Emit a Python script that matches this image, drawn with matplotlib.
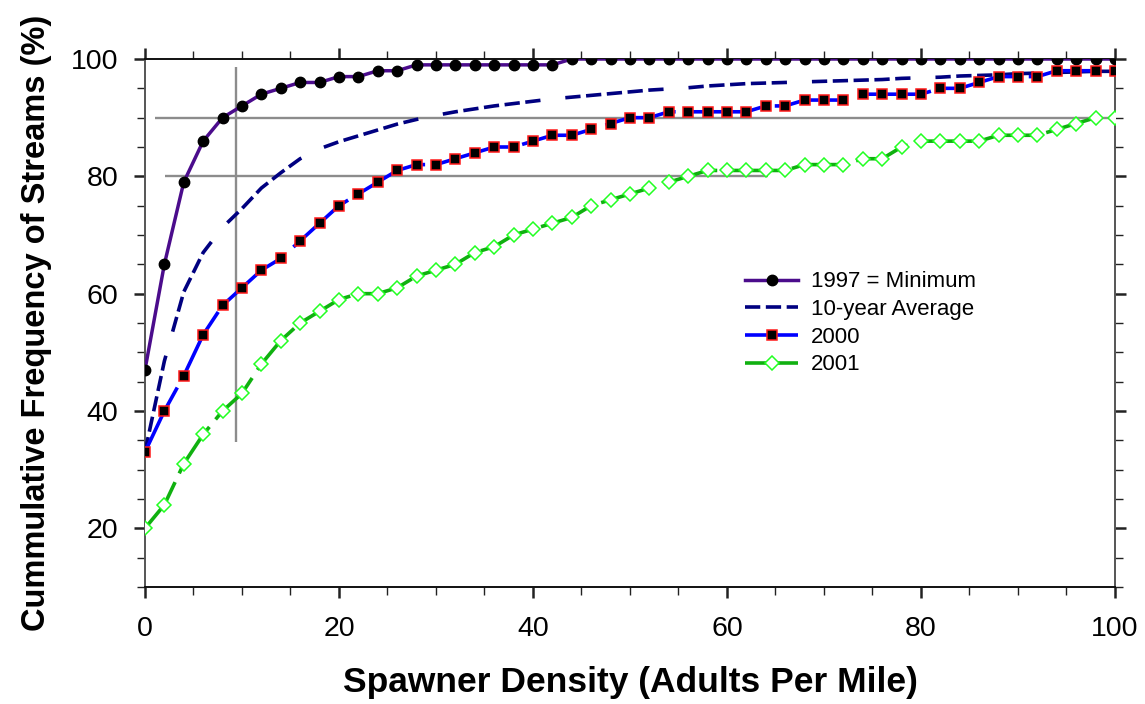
import numpy as np
import matplotlib
matplotlib.use("Agg")
import matplotlib.pyplot as plt
from matplotlib.ticker import MultipleLocator

plt.rcParams['font.family'] = ['Liberation Sans', 'DejaVu Sans']
plt.rcParams['lines.scale_dashes'] = False

# spawner density (adults per mile), one point every 2
density = np.arange(0, 101, 2)

min_1997 = [47, 65, 79, 86, 90, 92, 94, 95, 96, 96,
            97, 97, 98, 98, 99, 99, 99, 99, 99, 99,
            99, 99, 100, 100, 100, 100, 100, 100, 100, 100,
            100, 100, 100, 100, 100, 100, 100, 100, 100, 100,
            100, 100, 100, 100, 100, 100, 100, 100, 100, 100, 100]

avg_10yr = [33, 48.5, 60.3, 67, 71.3, 74.5, 78, 80.6, 83, 84.7,
            85.9, 86.9, 87.9, 88.9, 89.7, 90.4, 91, 91.5, 92, 92.4,
            92.8, 93.2, 93.5, 93.8, 94.1, 94.4, 94.7, 94.9, 95.1, 95.4,
            95.6, 95.8, 95.9, 96, 96.1, 96.2, 96.3, 96.4, 96.5, 96.7,
            96.8, 96.9, 97.1, 97.2, 97.3, 97.5, 97.6, 97.7, 97.8, 97.9, 97.9]

yr_2000 = [33, 40, 46, 53, 58, 61, 64, 66, 69, 72,
           75, 77, 79, 81, 82, 82, 83, 84, 85, 85,
           86, 87, 87, 88, 89, 90, 90, 91, 91, 91,
           91, 91, 92, 92, 93, 93, 93, 94, 94, 94,
           94, 95, 95, 96, 97, 97, 97, 98, 98, 98, 98]

yr_2001 = [20, 24, 31, 36, 40, 43, 48, 52, 55, 57,
           59, 60, 60, 61, 63, 64, 65, 67, 68, 70,
           71, 72, 73, 75, 76, 77, 78, 79, 80, 81,
           81, 81, 81, 81, 82, 82, 82, 83, 83, 85,
           86, 86, 86, 86, 87, 87, 87, 88, 89, 90, 90]

# gray guide lines
vline_x = [9.4, 9.4]
vline_y = [34.8, 98.6]
hline90_x = [1.0, 100]
hline90_y = [90, 90]
hline80_x = [2.1, 64.2]
hline80_y = [80, 80]

fig = plt.figure(figsize=(11.45, 7.04), dpi=100)
ax = fig.add_axes([0.1266, 0.1662, 0.8472, 0.75])

guide = dict(color='#8c8c8c', lw=1.7, zorder=1, solid_capstyle='butt')
ax.plot(vline_x, vline_y, **guide)
ax.plot(hline90_x, hline90_y, **guide)
ax.plot(hline80_x, hline80_y, **guide)

ax.plot(density, min_1997, color='#4B0C8C', lw=2.5, marker='o', ms=7.5,
        mfc='black', mec='black', label='1997 = Minimum', zorder=3)
ax.plot(density, avg_10yr, color='#000080', lw=2.6,
        linestyle=(0, (11, 4, 11, 4, 11, 4, 11, 4, 11, 18)),
        label='10-year Average', zorder=3)
ax.plot(density, yr_2000, color='#0000FF', lw=2.6, linestyle=(0, (52, 10)),
        marker='s', ms=6.8, mfc='black', mec='#FF1A1A', mew=1.1,
        label='2000', zorder=4)
ax.plot(density, yr_2001, color='#10B010', lw=2.6, linestyle=(0, (40, 7)),
        marker='D', ms=6.8, mfc='white', mec='#22FF22', mew=1.1,
        label='2001', zorder=4)

ax.set_xlim(0, 100)
ax.set_ylim(10, 100)
ax.xaxis.set_major_locator(MultipleLocator(20))
ax.xaxis.set_minor_locator(MultipleLocator(5))
ax.yaxis.set_major_locator(MultipleLocator(20))
ax.yaxis.set_minor_locator(MultipleLocator(5))

ax.tick_params(which='both', direction='out', top=True, right=True,
               labelsize=20.5, color='#222222')
ax.tick_params(which='major', length=8, width=1.8)
ax.tick_params(which='minor', length=6, width=1.0)
ax.tick_params(axis='x', which='major', pad=13)
ax.tick_params(axis='y', which='major', pad=11)

for side in ['top', 'bottom']:
    ax.spines[side].set_color('#111111')
    ax.spines[side].set_linewidth(1.4)
for side in ['left', 'right']:
    ax.spines[side].set_color('#555555')
    ax.spines[side].set_linewidth(1.4)

ax.set_xlabel('Spawner Density (Adults Per Mile)', fontsize=25.5,
              fontweight='bold', labelpad=17)
ax.set_ylabel('Cummulative Frequency of Streams (%)', fontsize=23.5,
              fontweight='bold', labelpad=14)

fig.legend(loc='center left', bbox_to_anchor=(0.6507, 0.5405),
           frameon=False, fontsize=16, handlelength=2.4, handletextpad=0.55,
           labelspacing=0.3, borderpad=0, borderaxespad=0, numpoints=1)

fig.savefig('out.png', dpi=100)
